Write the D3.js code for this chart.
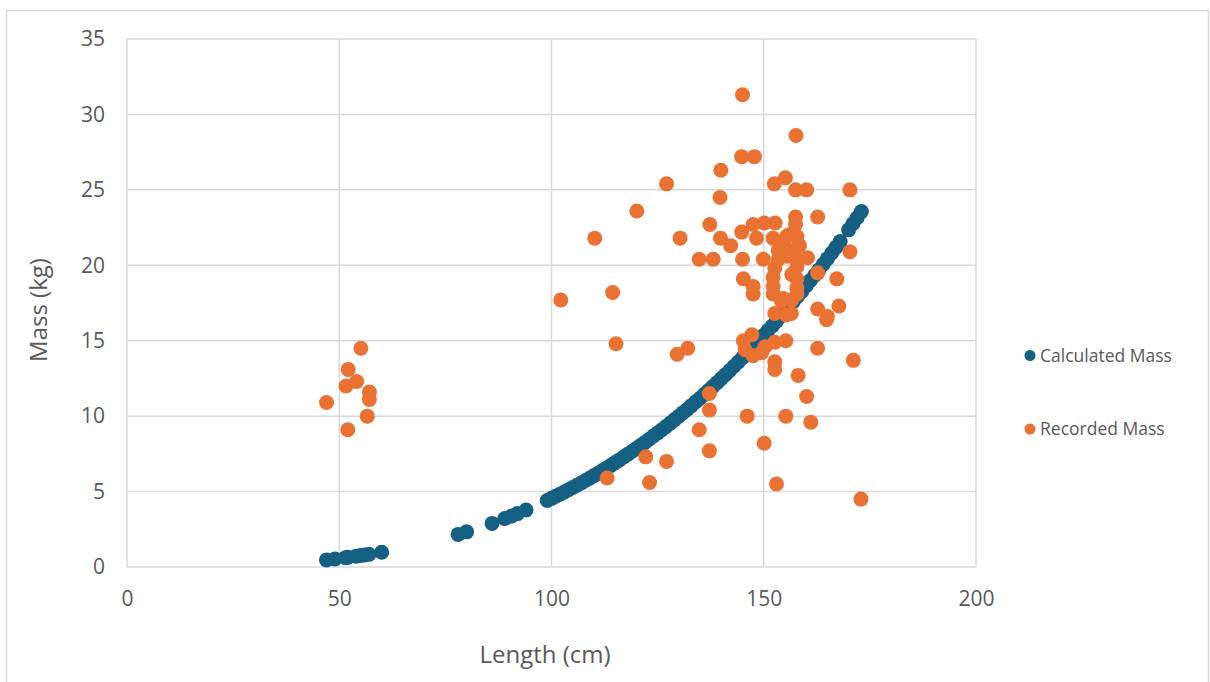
<!DOCTYPE html>
<html>
<head>
<meta charset="utf-8">
<script src="https://cdn.jsdelivr.net/npm/d3@7"></script>
<style>
  html, body { margin: 0; padding: 0; background: #fff; }
  svg { display: block; font-family: "Open Sans", "Noto Sans", sans-serif; }
</style>
</head>
<body>
<svg id="chart" width="1210" height="682"></svg>
<script>
// Calculated mass: one point per fish length
const calcLength = [47, 49, 51.5, 52, 54, 55, 56, 57, 60,
  78, 80, 86, 89, 90.6, 92, 94,
  99, 100, 101, 102, 103, 104, 105, 106, 107, 108, 109, 110, 111, 112, 113, 114, 115,
  116, 117, 118, 119, 120, 121, 122, 123, 124, 125, 126, 127, 128, 129, 130, 131, 132,
  133, 134, 135, 136, 137, 138, 139, 140, 141, 142, 143, 144, 145, 146, 147, 148, 149,
  150, 151, 152, 153, 154, 155, 156, 157, 158, 159, 160, 161, 162, 163, 164, 165, 166,
  167, 168, 170, 171, 172, 173];
const calcMass = [0.47, 0.53, 0.62, 0.64, 0.72, 0.76, 0.80, 0.84, 0.98,
  2.16, 2.33, 2.89, 3.21, 3.38, 3.54, 3.78,
  4.41, 4.55, 4.69, 4.83, 4.97, 5.12, 5.27, 5.42, 5.57, 5.73, 5.89, 6.06, 6.22, 6.39, 6.57, 6.74, 6.92,
  7.10, 7.29, 7.48, 7.67, 7.86, 8.06, 8.26, 8.47, 8.68, 8.89, 9.10, 9.32, 9.54, 9.77, 10.00, 10.23, 10.46,
  10.70, 10.95, 11.19, 11.45, 11.70, 11.96, 12.22, 12.49, 12.75, 13.03, 13.31, 13.59, 13.87, 14.16, 14.45, 14.75, 15.05,
  15.36, 15.67, 15.98, 16.30, 16.62, 16.94, 17.27, 17.61, 17.95, 18.29, 18.64, 18.99, 19.34, 19.70, 20.07, 20.44, 20.81,
  21.19, 21.57, 22.35, 22.75, 23.15, 23.56];

// Recorded mass: weighed values
const recLength = [47.0, 52.1, 55.1, 51.6, 54.1, 57.1, 57.1, 56.6, 52.0,
  102.2, 110.2, 113.1, 114.4, 115.2, 120.1, 122.2, 123.1, 127.1, 127.1, 129.6, 130.3, 132.1,
  134.8, 134.8, 137.2, 137.2, 137.2, 137.3, 138.1, 139.7, 139.9, 139.8, 142.2,
  145.0, 144.8, 147.8, 144.8, 147.5, 148.3, 150.1, 145.0, 149.9, 145.2, 147.5, 147.5,
  145.2, 147.2, 145.6, 147.5, 149.5, 150.3, 146.1, 150.1,
  152.5, 155.1, 157.6, 157.5, 160.1, 170.3, 152.7, 157.5, 157.5, 162.7,
  152.2, 154.6, 155.8, 155.4, 157.8, 158.4, 153.4, 156.6, 153.4, 155.4, 157.8, 160.3, 170.3,
  152.6, 157.8, 156.6, 152.2, 152.2, 152.2, 157.8, 157.8, 157.8, 154.6, 154.2, 156.6,
  152.6, 155.3, 156.5, 162.7, 167.2, 162.7, 164.8, 165.0, 167.7,
  152.6, 155.2, 162.7, 171.1, 152.6, 152.6, 158.1, 160.1, 155.2, 161.1, 153.0, 172.9];
const recMass = [10.9, 13.1, 14.5, 12.0, 12.3, 11.6, 11.1, 10.0, 9.1,
  17.7, 21.8, 5.9, 18.2, 14.8, 23.6, 7.3, 5.6, 25.4, 7.0, 14.1, 21.8, 14.5,
  20.4, 9.1, 11.5, 10.4, 7.7, 22.7, 20.4, 24.5, 26.3, 21.8, 21.3,
  31.3, 27.2, 27.2, 22.2, 22.7, 21.8, 22.8, 20.4, 20.4, 19.1, 18.6, 18.1,
  15.0, 15.4, 14.4, 14.0, 14.2, 14.6, 10.0, 8.2,
  25.4, 25.8, 28.6, 25.0, 25.0, 25.0, 22.8, 23.2, 22.7, 23.2,
  21.8, 21.5, 22.0, 21.9, 21.9, 21.3, 21.0, 21.0, 20.4, 20.6, 20.4, 20.5, 20.9,
  19.8, 19.9, 19.4, 19.2, 18.6, 18.1, 19.1, 18.5, 18.1, 17.8, 17.6, 17.7,
  16.8, 16.7, 16.8, 19.5, 19.1, 17.1, 16.4, 16.6, 17.3,
  14.9, 15.0, 14.5, 13.7, 13.6, 13.1, 12.7, 11.3, 10.0, 9.6, 5.5, 4.5];

const xTicks = [0, 50, 100, 150, 200];
const yTicks = [0, 5, 10, 15, 20, 25, 30, 35];
const seriesNames = ["Calculated Mass", "Recorded Mass"];
const seriesColors = ["#156082", "#E97132"];

const svg = d3.select("#chart");
const W = 1210, H = 682;
const plot = { left: 127, right: 976, top: 39, bottom: 567 };

// outer chart frame
svg.append("rect")
  .attr("x", 6.5).attr("y", 10.5)
  .attr("width", W - 8).attr("height", H)
  .attr("fill", "#fff").attr("stroke", "#d9d9d9").attr("stroke-width", 1.5);

const x = d3.scaleLinear().domain([0, 200]).range([plot.left, plot.right]);
const y = d3.scaleLinear().domain([0, 35]).range([plot.bottom, plot.top]);

// gridlines
const grid = svg.append("g");
grid.selectAll("line.h").data(yTicks).join("line")
  .attr("x1", plot.left).attr("x2", plot.right)
  .attr("y1", d => y(d)).attr("y2", d => y(d))
  .attr("stroke", "#d9d9d9").attr("stroke-width", 1.5);
grid.selectAll("line.v").data(xTicks).join("line")
  .attr("y1", plot.top).attr("y2", plot.bottom)
  .attr("x1", d => x(d)).attr("x2", d => x(d))
  .attr("stroke", "#d9d9d9").attr("stroke-width", 1.5);

// axes (labels only; lines come from the grid)
const yAxis = svg.append("g")
  .attr("transform", `translate(${plot.left},0)`)
  .call(d3.axisLeft(y).tickValues(yTicks).tickSize(0).tickPadding(22));
const xAxis = svg.append("g")
  .attr("transform", `translate(0,${plot.bottom})`)
  .call(d3.axisBottom(x).tickValues(xTicks).tickSize(0).tickPadding(24));
[yAxis, xAxis].forEach(a => {
  a.select(".domain").remove();
  a.selectAll("text")
    .attr("fill", "#595959")
    .style("font-size", "21px")
    .style("font-family", "\"Open Sans\", sans-serif");
});

// axis titles
svg.append("text")
  .attr("transform", `translate(47,310) rotate(-90)`)
  .attr("text-anchor", "middle")
  .attr("fill", "#595959").style("font-size", "24px")
  .text("Mass (kg)");
svg.append("text")
  .attr("x", 545).attr("y", 663)
  .attr("text-anchor", "middle")
  .attr("fill", "#595959").style("font-size", "24px")
  .text("Length (cm)");

// points
const calc = calcLength.map((l, i) => ({ l, m: calcMass[i] }));
const rec = recLength.map((l, i) => ({ l, m: recMass[i] }));

svg.append("g").selectAll("circle").data(calc).join("circle")
  .attr("cx", d => x(d.l)).attr("cy", d => y(d.m)).attr("r", 7.5)
  .attr("fill", seriesColors[0]);
svg.append("g").selectAll("circle").data(rec).join("circle")
  .attr("cx", d => x(d.l)).attr("cy", d => y(d.m)).attr("r", 7.5)
  .attr("fill", seriesColors[1]);

// legend
const legend = svg.append("g");
const legendY = [355.5, 429];
seriesNames.forEach((name, i) => {
  legend.append("circle")
    .attr("cx", 1030).attr("cy", legendY[i]).attr("r", 5.5)
    .attr("fill", seriesColors[i]);
  legend.append("text")
    .attr("x", 1040).attr("y", legendY[i])
    .attr("dy", "0.35em")
    .attr("fill", "#595959").style("font-size", "17.5px")
    .text(name);
});
</script>
</body>
</html>
